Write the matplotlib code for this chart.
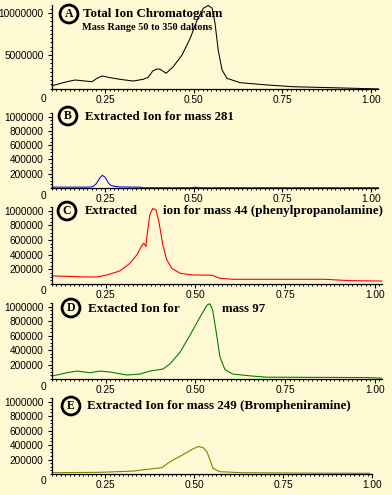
import matplotlib
matplotlib.use("Agg")
import matplotlib.pyplot as plt
from matplotlib.ticker import MultipleLocator, FixedLocator, FuncFormatter

# ---------------- data ----------------
tic_x = [0.100, 0.142, 0.165, 0.213, 0.227, 0.241, 0.264, 0.292, 0.329, 0.357, 0.371, 0.385,
         0.397, 0.405, 0.422, 0.442, 0.467, 0.490, 0.510, 0.527, 0.541, 0.552, 0.560, 0.569,
         0.580, 0.594, 0.631, 0.707, 0.781, 0.894, 1.021]
tic_y = [1.34e6, 1.82e6, 2.02e6, 1.82e6, 2.22e6, 2.50e6, 2.30e6, 2.10e6, 1.90e6, 2.10e6, 2.34e6, 3.13e6,
         3.33e6, 3.30e6, 2.82e6, 3.60e6, 5.00e6, 6.99e6, 9.20e6, 10.56e6, 10.90e6, 10.56e6, 8.80e6, 5.59e6,
         3.21e6, 2.22e6, 1.70e6, 1.43e6, 1.22e6, 1.10e6, 0.96e6]

m281_x = [0.100, 0.150, 0.205, 0.215, 0.225, 0.235, 0.242, 0.250, 0.258, 0.265, 0.275, 0.290,
          0.350, 0.358, 0.380, 0.495, 0.505, 0.515, 0.600, 0.800, 1.021]
m281_y = [12000, 12000, 12000, 20000, 60000, 140000, 178000, 150000, 80000, 40000, 25000, 15000,
          12000, 3000, 3000, 3000, 12000, 3000, 3000, 3000, 3000]

m44_x = [0.100, 0.142, 0.186, 0.225, 0.253, 0.289, 0.317, 0.337, 0.351, 0.356, 0.362, 0.365,
         0.373, 0.381, 0.390, 0.398, 0.409, 0.420, 0.434, 0.457, 0.493, 0.546, 0.568, 0.604,
         0.743, 0.860, 0.930, 1.019]
m44_y = [110000, 105000, 96000, 96000, 123000, 178000, 280000, 400000, 530000, 557000, 510000, 670000,
         950000, 1030000, 1010000, 850000, 530000, 330000, 215000, 146000, 123000, 120000, 78000, 64000,
         64000, 64000, 46000, 40000]

m97_x = [0.100, 0.142, 0.170, 0.206, 0.234, 0.262, 0.309, 0.345, 0.373, 0.409, 0.429, 0.457,
         0.484, 0.512, 0.532, 0.540, 0.548, 0.560, 0.568, 0.582, 0.604, 0.660, 0.699, 0.977, 1.019]
m97_y = [40000, 87000, 110000, 87000, 110000, 96000, 55000, 68000, 110000, 137000, 210000, 370000,
         600000, 850000, 1020000, 1040000, 950000, 580000, 310000, 130000, 68000, 40000, 25000, 20000, 12000]

m249_x = [0.100, 0.235, 0.328, 0.367, 0.409, 0.432, 0.466, 0.494, 0.511, 0.525, 0.536, 0.553,
          0.572, 0.629, 0.834, 0.994]
m249_y = [18000, 23000, 40000, 64000, 87000, 170000, 260000, 340000, 380000, 365000, 305000, 78000,
          32000, 18000, 12000, 10000]

x_ticks = [0.25, 0.50, 0.75, 1.00]
a_yticks = [5000000, 10000000]
ext_yticks = [200000, 400000, 600000, 800000, 1000000]

letters = ["A", "B", "C", "D", "E"]

# ---------------- layout ----------------
W, H = 392, 495
BG = "#FFF9D3"
fig = plt.figure(figsize=(W / 100, H / 100), dpi=100, facecolor=BG)

def add_ax(left, right, top, bottom):
    ax = fig.add_axes([left / W, 1 - bottom / H, (right - left) / W, (bottom - top) / H])
    ax.set_facecolor("none")
    for s in ("top", "right"):
        ax.spines[s].set_visible(False)
    for s in ("left", "bottom"):
        ax.spines[s].set_linewidth(0.9)
    ax.xaxis.set_major_locator(FixedLocator(x_ticks))
    ax.xaxis.set_major_formatter(FuncFormatter(lambda v, p: "%.2f" % v))
    ax.xaxis.set_minor_locator(MultipleLocator(0.0125))
    ax.tick_params(axis="both", which="major", length=3.0, width=0.8, labelsize=7.3, pad=1.5,
                   direction="out", labelfontfamily="Liberation Sans")
    ax.tick_params(axis="both", which="minor", length=1.6, width=0.7, direction="out")
    ax.tick_params(axis="y", which="major", pad=3.0)
    return ax

ax_a = add_ax(52, 378, 5, 89)
ax_b = add_ax(52, 378, 113, 188)
ax_c = add_ax(52, 382, 207, 284)
ax_d = add_ax(52, 382, 303, 379)
ax_e = add_ax(52, 372, 398, 474)

ax_a.plot(tic_x, tic_y, color="black", lw=0.75, clip_on=False)
ax_b.plot(m281_x, m281_y, color="#0000FF", lw=0.75, clip_on=False)
ax_c.plot(m44_x, m44_y, color="#FF0000", lw=0.8, clip_on=False)
ax_d.plot(m97_x, m97_y, color="#008000", lw=0.8, clip_on=False)
ax_e.plot(m249_x, m249_y, color="#808000", lw=0.8, clip_on=False)

ax_a.set_xlim(0.10, 1.02)
ax_a.set_ylim(0.95e6, 10.95e6)
ax_a.yaxis.set_major_locator(FixedLocator(a_yticks))
ax_a.yaxis.set_minor_locator(MultipleLocator(500000))
ax_a.yaxis.set_major_formatter(FuncFormatter(lambda v, p: "%d" % v))

for ax, xr in ((ax_b, 1.02), (ax_c, 1.02), (ax_d, 1.02), (ax_e, 1.00)):
    ax.set_xlim(0.10, xr)
    ax.set_ylim(0, 1.05e6)
    ax.yaxis.set_major_locator(FixedLocator(ext_yticks))
    ax.yaxis.set_minor_locator(MultipleLocator(50000))
    ax.yaxis.set_major_formatter(FuncFormatter(lambda v, p: "%d" % v))

# y "0" labels placed at the x tick-label row
for ax, dy in ((ax_a, -10), (ax_b, -8), (ax_c, -7), (ax_d, -8), (ax_e, -7)):
    ax.annotate("0", xy=(0, 0), xycoords="axes fraction", xytext=(-6, dy),
                textcoords="offset pixels", ha="right", va="center", fontsize=7.3,
                family="Liberation Sans")

# ---------------- titles ----------------
def ftext(px, py, s, target_w, size=9, **kw):
    t = fig.text(px / W, 1 - py / H, s, ha="left", va="center", fontsize=size,
                 family="Liberation Serif", weight="bold", **kw)
    t._target_w = target_w
    return t

titles = [
    ftext(83, 14, "Total Ion Chromatogram", 140),
    ftext(82, 27, "Mass Range 50 to 350 daltons", 131, size=7),
    ftext(85, 117, "Extracted Ion for mass 281", 148),
    ftext(85, 211, "Extracted", 53),
    ftext(163, 211, "ion for mass 44 (phenylpropanolamine)", 219),
    ftext(88, 309, "Extacted Ion for", 92),
    ftext(222, 309, "mass 97", 43),
    ftext(87, 406, "Extracted Ion for mass 249 (Brompheniramine)", 263),
]

centers = [(69, 14), (68, 116), (67, 211), (71, 308), (71, 406)]
for (cx, cy), L in zip(centers, letters):
    fig.text(cx / W, 1 - cy / H, L, ha="center", va="center", fontsize=8.5,
             family="Liberation Serif", weight="bold",
             bbox=dict(boxstyle="circle,pad=0.25", fc="none", ec="black", lw=2.0))

fig.canvas.draw()
r = fig.canvas.get_renderer()
for t in titles:
    w = t.get_window_extent(r).width
    t.set_fontsize(t.get_fontsize() * t._target_w / w)

fig.savefig("out.png", dpi=100, facecolor=BG)
